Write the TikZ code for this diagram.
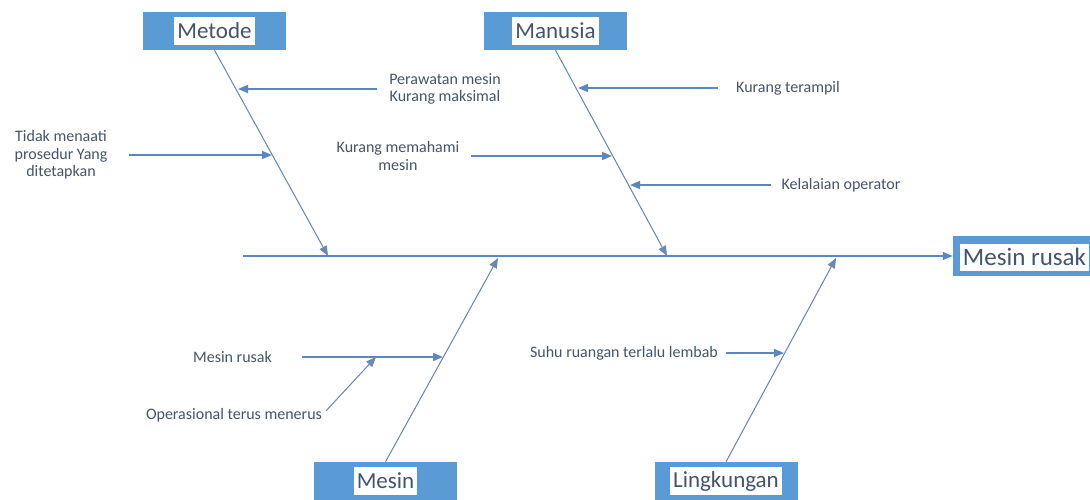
\documentclass[tikz,border=0pt]{standalone}
\usepackage{fontspec}
\setmainfont{Carlito}
\usetikzlibrary{arrows.meta}
\definecolor{boxblue}{HTML}{5B9BD5}
\definecolor{lineblue}{HTML}{5A87BF}
\definecolor{bonegray}{HTML}{6A88B0}
\definecolor{txtgray}{HTML}{44546A}

\begin{document}
\begin{tikzpicture}[x=1pt, y=-1pt, every node/.style={text=txtgray}]
    \tikzstyle{category} = [rectangle, fill=boxblue, minimum width=143pt, minimum height=38pt, inner sep=0pt]
    \tikzstyle{catlabel} = [rectangle, fill=white, font=\fontsize{23}{25}\selectfont, inner xsep=3pt, inner ysep=0pt, minimum height=28pt]
    \tikzstyle{cause} = [font=\fontsize{16}{17.5}\selectfont, align=center, inner sep=0pt]
    \tikzstyle{bone} = [-{Triangle[length=10pt,width=8pt]}, draw=bonegray, fill=lineblue, line width=1pt]
    \tikzstyle{arrow} = [-{Triangle[length=10pt,width=8pt]}, draw=lineblue, line width=1.4pt]

    \useasboundingbox (0,0) rectangle (1090,499);

    % categories
    \node [category] (metode) at (214.5,31) {};
    \node [catlabel] (metodeText) at (metode) {Metode};
    \node [category] (manusia) at (555.5,31) {};
    \node [catlabel] (manusiaText) at (manusia) {Manusia};
    \node [category] (mesin) at (385.5,481) {};
    \node [catlabel] (mesinText) at (mesin) {Mesin};
    \node [category] (lingkungan) at (726,481) {};
    \node [catlabel] (lingkunganText) at (lingkungan) {Lingkungan};

    % effect
    \node [category, minimum width=137pt, minimum height=40pt] (effect) at (1021.5,256) {};
    \node [catlabel, font=\fontsize{25}{27}\selectfont, minimum width=125pt, minimum height=27pt] (effectText) at (1024.5,257) {Mesin rusak};

    % spine and bones
    \coordinate (spineStart) at (243,256);
    \coordinate (metodeTip) at (328,256);
    \coordinate (manusiaTip) at (667,256);
    \coordinate (mesinTip) at (498,258);
    \coordinate (lingkunganTip) at (836,258);
    \draw [arrow] (spineStart) -- (effect.west);
    \draw [bone] (metode.south) -- (metodeTip);
    \draw [bone] (manusia.south) -- (manusiaTip);
    \draw [bone] (mesin.north) -- (mesinTip);
    \draw [bone] (lingkungan.north) -- (lingkunganTip);

    % causes
    \node [cause] (perawatan) at (445,89) {Perawatan mesin\\Kurang maksimal};
    \node [cause] (tidak) at (61,155) {Tidak menaati\\prosedur Yang\\ditetapkan};
    \node [cause] (memahami) at (398,156) {Kurang memahami\\mesin};
    \node [cause] (terampil) at (788,88) {Kurang terampil};
    \node [cause] (kelalaian) at (841,185) {Kelalaian operator};
    \node [cause] (rusak) at (232.5,357) {Mesin rusak};
    \node [cause] (operasional) at (234,415) {Operasional terus menerus};
    \node [cause] (suhu) at (624,353) {Suhu ruangan terlalu lembab};

    \coordinate (perawatanEnd) at (238,89);
    \coordinate (tidakEnd) at (272,155);
    \coordinate (memahamiEnd) at (612,156);
    \coordinate (terampilEnd) at (578,88);
    \coordinate (kelalaianEnd) at (630,185);
    \coordinate (rusakEnd) at (443,357);
    \coordinate (operasionalEnd) at (376,357);
    \coordinate (suhuEnd) at (784,353);

    \draw [arrow, shorten <=12.5pt] (perawatan.west) -- (perawatanEnd);
    \draw [arrow, shorten <=21pt] (tidak.east) -- (tidakEnd);
    \draw [arrow, shorten <=11pt] (memahami.east) -- (memahamiEnd);
    \draw [arrow, shorten <=18.5pt] (terampil.west) -- (terampilEnd);
    \draw [arrow, shorten <=10pt] (kelalaian.west) -- (kelalaianEnd);
    \draw [arrow, shorten <=30pt] (rusak.east) -- (rusakEnd);
    \draw [bone, shorten <=6pt] (operasional.east) -- (operasionalEnd);
    \draw [arrow, shorten <=8pt] (suhu.east) -- (suhuEnd);
\end{tikzpicture}
\end{document}
